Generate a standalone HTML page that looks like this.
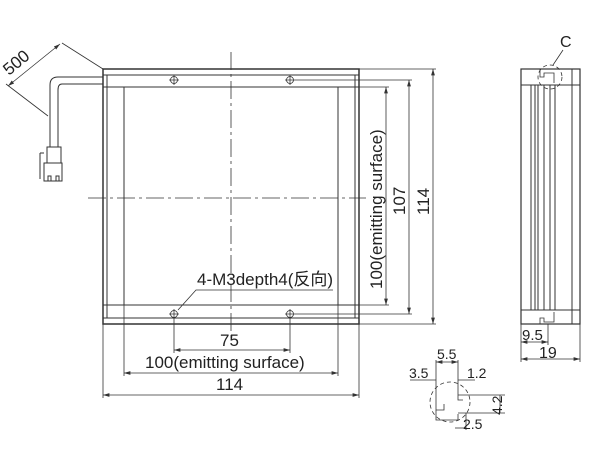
<!DOCTYPE html><html><head><style>body{margin:0;background:#fff}svg{display:block}text{font-family:"Liberation Sans","Noto Sans CJK SC",sans-serif;fill:#222}</style></head><body>
<svg width="600" height="450" viewBox="0 0 600 450" stroke="#333" fill="none" stroke-width="1">
<defs><marker id="a" viewBox="0 0 10 6" refX="10" refY="3" markerWidth="8" markerHeight="5" orient="auto-start-reverse"><path d="M0,0L10,3L0,6z" fill="#333" stroke="none"/></marker></defs>
<rect x="103" y="69" width="256" height="255" stroke-width="1.5"/>
<line x1="103" y1="75" x2="359" y2="75"/>
<line x1="103" y1="318" x2="359" y2="318"/>
<rect x="124" y="87" width="214" height="218"/>
<line x1="103" y1="87" x2="124" y2="87"/><line x1="338" y1="87" x2="359" y2="87"/>
<line x1="103" y1="305" x2="124" y2="305"/><line x1="338" y1="305" x2="359" y2="305"/>
<line x1="107" y1="75" x2="107" y2="318"/><line x1="355" y1="75" x2="355" y2="318"/>
<g stroke-dasharray="18,4,3,4" stroke-width="0.8"><line x1="231" y1="52" x2="231" y2="338"/><line x1="88" y1="198" x2="366" y2="198"/></g>
<g stroke-width="0.8"><circle cx="174" cy="80" r="3.5"/><circle cx="290" cy="80" r="3.5"/><circle cx="174" cy="314" r="3.5"/><circle cx="290" cy="314" r="3.5"/>
<path d="M169,80h10M174,75v10M285,80h10M290,75v10M169,314h10M174,309v10M285,314h10M290,309v10"/></g>
<path d="M103,77H58Q50,77 50,85V147M103,84H62Q58,84 58,90V147" />
<path d="M47,147h14v16h-14zM44,163h18v18h-18zM48,181v-5h3v5M56,181v-5h3v5M40,153v26M40,153h4"/>
<path d="M103,69L62,43M48,116L6,84" stroke-width="0.8"/>
<line x1="8" y1="86" x2="60" y2="44" marker-start="url(#a)" marker-end="url(#a)" stroke-width="0.8"/>
<text x="0" y="0" font-size="17" transform="translate(9,76) rotate(-40)" stroke="none">500</text>
<g stroke-width="0.8">
<path d="M359,69H436M295,80H412M338,87H389M359,324H436M295,314H412M338,305H389"/>
<line x1="433" y1="69" x2="433" y2="324" marker-start="url(#a)" marker-end="url(#a)"/>
<line x1="409" y1="80" x2="409" y2="314" marker-start="url(#a)" marker-end="url(#a)"/>
<line x1="386" y1="87" x2="386" y2="305" marker-start="url(#a)" marker-end="url(#a)"/>
<path d="M124,305V376M338,305V376M103,324V398M359,324V398M174,318V353M290,318V353"/>
<line x1="174" y1="350" x2="290" y2="350" marker-start="url(#a)" marker-end="url(#a)"/>
<line x1="124" y1="373" x2="338" y2="373" marker-start="url(#a)" marker-end="url(#a)"/>
<line x1="103" y1="395" x2="359" y2="395" marker-start="url(#a)" marker-end="url(#a)"/>
<path d="M178,310L196,290H333"/>
</g>
<g stroke="none" font-size="17">
<text x="0" y="0" transform="translate(382,289) rotate(-90)">100(emitting surface)</text>
<text x="0" y="0" transform="translate(405,215) rotate(-90)">107</text>
<text x="0" y="0" transform="translate(429,215) rotate(-90)">114</text>
<text x="197" y="285">4-M3depth4(反向)</text>
<text x="220" y="346">75</text>
<text x="145" y="368">100(emitting surface)</text>
<text x="216" y="390">114</text>
</g>
<rect x="521" y="69" width="59" height="255" stroke-width="1.2"/>
<path d="M521,85H580M521,310H580M572,69V324M555,85V310M544,85V310M531,85V310M535,85V310M538,85V310M550,85V310"/>
<path d="M540,69v8h4v-4h10v10M540,324v-6h4v4h10v-10" stroke-width="0.8"/>
<circle cx="550" cy="77" r="12" stroke-dasharray="4,3" stroke-width="0.8"/>
<path d="M553,65L563,50" stroke-width="0.8"/>
<text x="560" y="47" font-size="16" stroke="none">C</text>
<g stroke-width="0.8"><path d="M521,324V362M580,324V362M548,324V345"/>
<line x1="521" y1="342" x2="548" y2="342" marker-start="url(#a)" marker-end="url(#a)"/>
<line x1="521" y1="359" x2="580" y2="359" marker-start="url(#a)" marker-end="url(#a)"/></g>
<text x="522" y="340" font-size="15" stroke="none">9.5</text>
<text x="539" y="358" font-size="16" stroke="none">19</text>
<g stroke-width="0.8">
<path d="M436,380V410h8v-6M458,380V400h5"/>
<path d="M436,410v10h22v-6"/>
<circle cx="450" cy="402" r="20" stroke-dasharray="4,3"/>
<path d="M436,360V380M458,360V380"/>
<line x1="436" y1="362" x2="458" y2="362" marker-start="url(#a)" marker-end="url(#a)"/>
<path d="M410,380H436M458,380H475"/>
<path d="M458,395H505M458,413H505M466,413V430M500,395V413"/>
<line x1="455" y1="428" x2="466" y2="428"/>
</g>
<g stroke="none" font-size="14"><text x="437" y="359">5.5</text><text x="409" y="378">3.5</text><text x="467" y="378">1.2</text><text x="0" y="0" transform="translate(502,415) rotate(-90)">4.2</text><text x="463" y="429">2.5</text></g>
</svg></body></html>
